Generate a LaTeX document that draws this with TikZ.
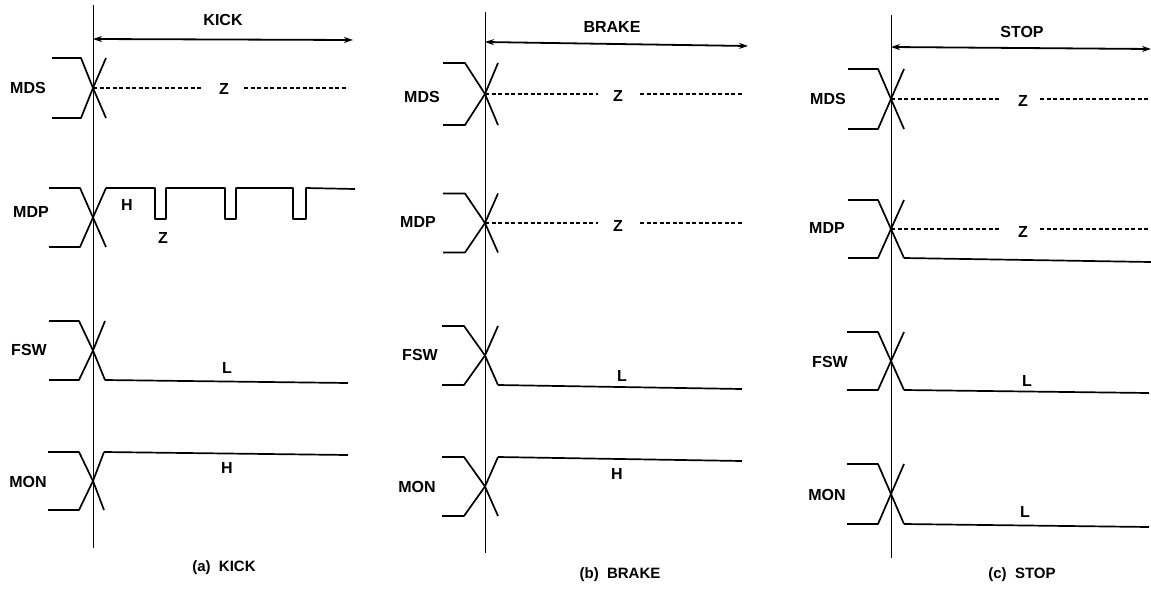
\documentclass[tikz,border=0pt]{standalone}
\usepackage{fontspec}
\setmainfont{Liberation Sans}
\usetikzlibrary{arrows.meta}
\tikzset{
  sig/.style={line width=1.7pt, line join=round},
  guide/.style={line width=0.9pt},
  zline/.style={line width=1.6pt, dash pattern=on 4pt off 2.5pt},
  span/.style={line width=1.8pt, {Stealth[length=9pt,width=6pt]}-{Stealth[length=9pt,width=6pt]}},
  lab/.style={font=\fontsize{16}{18}\selectfont\bfseries, inner sep=0pt},
  caplab/.style={font=\fontsize{15}{18}\selectfont\bfseries, inner sep=0pt},
}
% \xing{name}{cx}{cy}{dl}{dr}{half height}{left x}
\newcommand{\xing}[7]{%
  \coordinate (#1c) at (#2,#3);
  \coordinate (#1ut) at (#2+#5,#3-#6);
  \coordinate (#1lb) at (#2+#5,#3+#6);
  \draw[sig] (#7,#3-#6) -- (#2-#4,#3-#6) -- (#1c) -- (#1lb);
  \draw[sig] (#7,#3+#6) -- (#2-#4,#3+#6) -- (#1c) -- (#1ut);
}
% \zdash{name}{cross y}{end first}{start second}{end second}
\newcommand{\zdash}[5]{%
  \draw[zline] (#1c) -- (#3,#2);
  \draw[zline] (#4,#2) -- (#5,#2);
}
\begin{document}
\begin{tikzpicture}[x=1pt,y=-1pt]
\useasboundingbox (0,0) rectangle (1151,592);
\fill[white] (0,0) rectangle (1151,592);

% ================= (a) KICK =================
\coordinate (aTop) at (93,5);
\coordinate (aBot) at (93,548);
\draw[guide] (aTop) -- (aBot);
\coordinate (aAL) at (93,39);
\coordinate (aAR) at (353,40);
\draw[span] (aAL) -- (aAR);
\node[lab] (aKick) at (223,20) {KICK};

% MDS
\xing{aMDS}{93}{88}{12}{13}{30}{52}
\node[lab] (aMDSl) at (28,88) {MDS};
\node[lab] (aMDSz) at (224,89) {Z};
\zdash{aMDS}{88}{203}{244}{348}

% MDP
\xing{aMDP}{93}{217.5}{13}{13}{29.5}{49}
\node[lab] (aMDPl) at (31,212) {MDP};
\coordinate (aMDPe) at (355,189);
\draw[sig] (aMDPut) -- (155,188) -- (155,219) -- (166,219) -- (166,188)
  -- (225,188) -- (225,219) -- (236,219) -- (236,188)
  -- (293,188) -- (293,219) -- (306,219) -- (306,188) -- (aMDPe);
\node[lab] (aMDPh) at (127,205) {H};
\node[lab] (aMDPz) at (163,238) {Z};

% FSW
\xing{aFSW}{93}{350.5}{14}{12}{29.5}{49}
\node[lab] (aFSWl) at (29,350) {FSW};
\coordinate (aFSWe) at (348,383);
\draw[sig] (aFSWlb) -- (aFSWe);
\node[lab] (aFSWL) at (227,368) {L};

% MON
\xing{aMON}{93}{481}{14}{11}{29}{48}
\node[lab] (aMONl) at (28,482) {MON};
\coordinate (aMONe) at (348,455);
\draw[sig] (aMONut) -- (aMONe);
\node[lab] (aMONH) at (227,468) {H};

\node[caplab] (aCap) at (224,568) {(a)\ \ KICK};

% ================= (b) BRAKE =================
\coordinate (bTop) at (485,12);
\coordinate (bBot) at (485,553);
\draw[guide] (bTop) -- (bBot);
\coordinate (bAL) at (485,42);
\coordinate (bAR) at (748,46);
\draw[span] (bAL) -- (bAR);
\node[lab] (bBrake) at (612,27) {BRAKE};

% MDS
\xing{bMDS}{485}{94}{20}{13}{31}{443}
\node[lab] (bMDSl) at (422,97) {MDS};
\node[lab] (bMDSz) at (618,96) {Z};
\zdash{bMDS}{94}{598}{640}{742}

% MDP
\xing{bMDP}{485}{223}{20}{13}{29.5}{443}
\node[lab] (bMDPl) at (418,222) {MDP};
\node[lab] (bMDPz) at (618,226) {Z};
\zdash{bMDP}{223}{598}{640}{742}

% FSW
\xing{bFSW}{485}{355.5}{21}{13}{29.5}{442}
\node[lab] (bFSWl) at (420,355) {FSW};
\coordinate (bFSWe) at (742,389);
\draw[sig] (bFSWlb) -- (bFSWe);
\node[lab] (bFSWL) at (622,376) {L};

% MON
\xing{bMON}{485}{486.5}{21}{13}{29.5}{442}
\node[lab] (bMONl) at (417,487) {MON};
\coordinate (bMONe) at (742,461);
\draw[sig] (bMONut) -- (bMONe);
\node[lab] (bMONH) at (617,474) {H};

\node[caplab] (bCap) at (620,575) {(b)\ \ BRAKE};

% ================= (c) STOP =================
\coordinate (cTop) at (891,15);
\coordinate (cBot) at (891,558);
\draw[guide] (cTop) -- (cBot);
\coordinate (cAL) at (891,47);
\coordinate (cAR) at (1151,49);
\draw[span] (cAL) -- (cAR);
\node[lab] (cStop) at (1022,32) {STOP};

% MDS
\xing{cMDS}{891}{99}{13}{13}{30}{848}
\node[lab] (cMDSl) at (828,99) {MDS};
\node[lab] (cMDSz) at (1023,101) {Z};
\zdash{cMDS}{99}{1000}{1040}{1151}

% MDP
\xing{cMDP}{891}{229}{13}{13}{29}{848}
\node[lab] (cMDPl) at (827,228) {MDP};
\node[lab] (cMDPz) at (1023,232) {Z};
\zdash{cMDP}{229}{1000}{1040}{1151}
\coordinate (cMDPe) at (1151,262);
\draw[sig] (cMDPlb) -- (cMDPe);

% FSW
\xing{cFSW}{891}{361}{13}{13}{29}{847}
\node[lab] (cFSWl) at (830,362) {FSW};
\coordinate (cFSWe) at (1149,393);
\draw[sig] (cFSWlb) -- (cFSWe);
\node[lab] (cFSWL) at (1027,381) {L};

% MON
\xing{cMON}{891}{494}{13}{13}{30}{847}
\node[lab] (cMONl) at (827,495) {MON};
\coordinate (cMONe) at (1149,527);
\draw[sig] (cMONlb) -- (cMONe);
\node[lab] (cMONL) at (1025,512) {L};

\node[caplab] (cCap) at (1022,575) {(c)\ \ STOP};
\end{tikzpicture}
\end{document}
